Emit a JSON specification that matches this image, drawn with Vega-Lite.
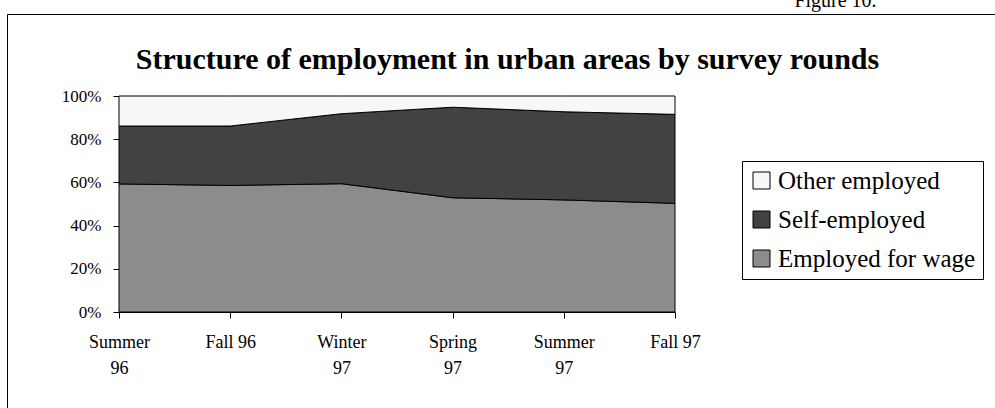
{
  "$schema": "https://vega.github.io/schema/vega-lite/v6.json",
  "width": 988,
  "height": 394,
  "autosize": {"type": "none"},
  "padding": {"left": 7, "top": 14, "right": 0, "bottom": 0},
  "background": "white",
  "config": {
    "font": "Liberation Serif",
    "view": {"stroke": "black", "strokeWidth": 1},
    "axis": {
      "labelFont": "Liberation Serif",
      "labelColor": "black",
      "domainColor": "black",
      "tickColor": "black",
      "grid": false
    }
  },
  "data": {
    "values": [
      {"round": "Summer 96", "series": "Employed for wage", "share": 59.3},
      {"round": "Fall 96", "series": "Employed for wage", "share": 58.6},
      {"round": "Winter 97", "series": "Employed for wage", "share": 59.4},
      {"round": "Spring 97", "series": "Employed for wage", "share": 52.9},
      {"round": "Summer 97", "series": "Employed for wage", "share": 51.9},
      {"round": "Fall 97", "series": "Employed for wage", "share": 50.3},
      {"round": "Summer 96", "series": "Self-employed", "share": 26.8},
      {"round": "Fall 96", "series": "Self-employed", "share": 27.5},
      {"round": "Winter 97", "series": "Self-employed", "share": 32.4},
      {"round": "Spring 97", "series": "Self-employed", "share": 41.9},
      {"round": "Summer 97", "series": "Self-employed", "share": 40.8},
      {"round": "Fall 97", "series": "Self-employed", "share": 41.2},
      {"round": "Summer 96", "series": "Other employed", "share": 13.9},
      {"round": "Fall 96", "series": "Other employed", "share": 13.9},
      {"round": "Winter 97", "series": "Other employed", "share": 8.2},
      {"round": "Spring 97", "series": "Other employed", "share": 5.2},
      {"round": "Summer 97", "series": "Other employed", "share": 7.3},
      {"round": "Fall 97", "series": "Other employed", "share": 8.5}
    ]
  },
  "transform": [
    {"calculate": "indexof(['Employed for wage', 'Self-employed', 'Other employed'], datum.series)", "as": "stack_rank"}
  ],
  "mark": {"type": "area", "stroke": "black", "strokeWidth": 1, "opacity": 1, "fillOpacity": 1},
  "encoding": {
    "x": {
      "field": "round",
      "type": "nominal",
      "sort": ["Summer 96", "Fall 96", "Winter 97", "Spring 97", "Summer 97", "Fall 97"],
      "scale": {"type": "point", "range": [112, 668], "padding": 0},
      "axis": {
        "orient": "bottom",
        "offset": -96,
        "labelAngle": 0,
        "labelFontSize": 18,
        "labelExpr": "indexof(datum.label, 'Fall') == 0 ? datum.label : split(datum.label, ' ')",
        "labelLineHeight": 26,
        "labelPadding": 15,
        "tickSize": 6,
        "title": "Structure of employment in urban areas by survey rounds",
        "titleX": 500,
        "titleY": -244,
        "titleAlign": "center",
        "titleBaseline": "alphabetic",
        "titleAngle": 0,
        "titleFont": "Liberation Serif",
        "titleFontSize": 30,
        "titleFontWeight": "bold",
        "titleColor": "black"
      }
    },
    "y": {
      "field": "share",
      "type": "quantitative",
      "stack": "zero",
      "scale": {"domain": [0, 100], "range": [298, 82], "nice": false},
      "axis": {
        "orient": "left",
        "offset": -112,
        "values": [0, 20, 40, 60, 80, 100],
        "labelExpr": "datum.value + '%'",
        "labelFontSize": 17,
        "labelPadding": 12,
        "tickSize": 6,
        "title": "Figure 10.",
        "titleAngle": 0,
        "titleX": 716,
        "titleY": -8,
        "titleAlign": "center",
        "titleBaseline": "alphabetic",
        "titleFont": "Liberation Serif",
        "titleFontSize": 20,
        "titleFontWeight": "normal",
        "titleColor": "black"
      }
    },
    "order": {"field": "stack_rank", "type": "quantitative", "sort": "ascending"},
    "color": {
      "field": "series",
      "type": "nominal",
      "scale": {
        "domain": ["Other employed", "Self-employed", "Employed for wage"],
        "range": ["#f7f7f7", "#424242", "#8c8c8c"]
      },
      "legend": {
        "orient": "none",
        "legendX": 735,
        "legendY": 147,
        "title": null,
        "strokeColor": "black",
        "fillColor": "white",
        "padding": 7,
        "labelFont": "Liberation Serif",
        "labelFontSize": 25,
        "labelColor": "black",
        "labelLimit": 400,
        "labelOffset": 4,
        "rowPadding": 13,
        "symbolType": "square",
        "symbolSize": 289,
        "symbolStrokeColor": "black",
        "symbolStrokeWidth": 1,
        "symbolOpacity": 1
      }
    }
  }
}
